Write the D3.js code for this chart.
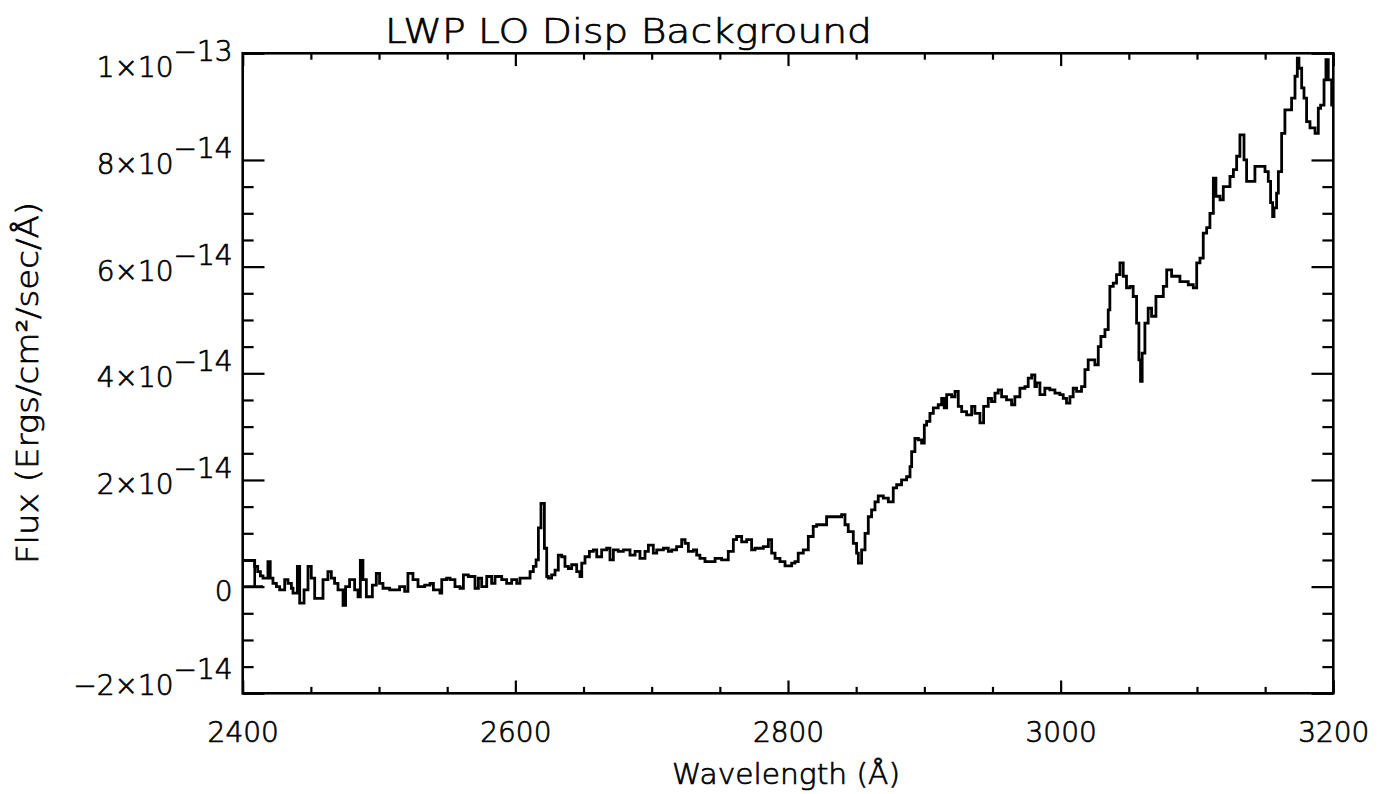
<!DOCTYPE html>
<html>
<head>
<meta charset="utf-8">
<script src="https://cdn.jsdelivr.net/npm/d3@7/dist/d3.min.js"></script>
<style>
  html, body { margin: 0; padding: 0; background: #fff; }
  svg { display: block; }
  text { font-family: "DejaVu Sans", "Liberation Sans", sans-serif; font-weight: 300; fill: #000; stroke: #000; stroke-width: 0.7px; }
</style>
</head>
<body>
<svg id="chart" width="1378" height="794"></svg>
<script>
// Background spectrum, IUE LWP low dispersion.
// Flux values are in units of 1e-14 erg/cm^2/s/Å; each value holds until the next wavelength.
const FLUX_UNIT = 1e-14;

const wavelength = [
  2400, 2408.8, 2411, 2413, 2414.9, 2418.5, 2420.2, 2422.2, 2424.7, 2427.1,
  2430.8, 2433.2, 2435.7, 2436.9, 2440.1, 2441.8, 2445, 2447.9, 2450.3, 2452.8,
  2458.9, 2462.5, 2465, 2467.4, 2469.9, 2473.6, 2475.5, 2478.4, 2482.1, 2484.6,
  2486.3, 2488.2, 2490.7, 2495.1, 2498, 2500.4, 2502.9, 2507.8, 2515.1, 2518.8,
  2521.2, 2524.9, 2528.6, 2533.5, 2537.4, 2539.9, 2544.7, 2546, 2549.6, 2552.1,
  2555.7, 2559.4, 2561.9, 2565.5, 2570.4, 2572.9, 2575.3, 2579, 2582.6, 2585.1,
  2590, 2593.6, 2597.3, 2601, 2603.4, 2610.8, 2613.2, 2615.2, 2616.9, 2618.8,
  2621.3, 2623, 2624.2, 2626.6, 2629.1, 2631.5, 2634, 2636.4, 2638.9, 2641.3,
  2645, 2647.4, 2648.7, 2651.1, 2654.3, 2657.2, 2659.7, 2663.3, 2667, 2669.4,
  2671.9, 2675.5, 2679.2, 2684.1, 2687.8, 2691.4, 2695.1, 2697.6, 2701.2, 2703.7,
  2708.6, 2712.2, 2714.7, 2718.3, 2722, 2724.5, 2726.9, 2730.6, 2733, 2735.4,
  2739.1, 2746.5, 2751.3, 2756.2, 2759.9, 2762.3, 2766, 2769.7, 2773.3, 2775.8,
  2781.9, 2785.6, 2788, 2790.5, 2794.1, 2797.8, 2802.7, 2805.1, 2807.5, 2811.2,
  2814.9, 2818.5, 2821, 2828.3, 2839.3, 2841.8, 2844.2, 2847.9, 2850.3, 2851.6,
  2854, 2856.5, 2858.9, 2861.3, 2863.8, 2866.2, 2869.9, 2873.6, 2877.2, 2879.7,
  2883.3, 2887, 2889.5, 2890.7, 2893.1, 2895.6, 2898, 2900, 2901.7, 2904.1,
  2906.6, 2910.2, 2912.7, 2914.6, 2916.4, 2920, 2922.5, 2924.9, 2927.4, 2931,
  2934.7, 2937.1, 2940.8, 2943.5, 2946.9, 2949.3, 2951.8, 2954.2, 2956.7, 2960.3,
  2964, 2966.4, 2970.1, 2973.8, 2976.2, 2978.7, 2981.1, 2982.3, 2984.8, 2988.4,
  2992.1, 2995.8, 2999.4, 3001.9, 3004.3, 3006.8, 3009.2, 3011.7, 3015.3, 3017.8,
  3020.2, 3025.1, 3027.6, 3029.5, 3032.5, 3034.9, 3036.1, 3038.6, 3041, 3043.5,
  3045.9, 3048.3, 3050.8, 3053.2, 3055.7, 3057.4, 3058.6, 3059.8, 3061.8, 3064.2,
  3066.7, 3069.9, 3075.3, 3077.8, 3081.4, 3087.5, 3093.6, 3097.3, 3099.8, 3102.2,
  3104.6, 3107.1, 3109.5, 3112, 3113.9, 3116.9, 3119.3, 3124.2, 3126.7, 3129.1,
  3131.5, 3134.5, 3136.4, 3142.5, 3149.9, 3152.3, 3154, 3155.5, 3156.5, 3158.4,
  3159.7, 3162.1, 3164.5, 3169.4, 3171.9, 3173.6, 3174.8, 3176.8, 3178.5, 3180.4,
  3182.9, 3186.6, 3189, 3190.7, 3193.2, 3194.6, 3196.3, 3198.8, 3200
];

const flux = [
  0.49, 0.38, 0.28, 0.20, 0.16, 0.47, 0.16, 0.06, 0.00, -0.06,
  0.13, 0.06, -0.03, -0.12, 0.38, -0.31, -0.06, 0.38, 0.16, -0.22,
  0.13, 0.28, 0.16, 0.06, -0.06, -0.35, 0.00, 0.13, -0.06, -0.19,
  0.49, 0.13, -0.19, 0.03, 0.25, 0.06, -0.03, -0.06, 0.00, -0.09,
  0.25, 0.13, 0.00, 0.03, 0.06, -0.06, -0.12, 0.13, 0.16, 0.13,
  0.00, -0.03, 0.22, 0.19, -0.03, 0.16, 0.00, 0.19, 0.06, 0.19,
  0.13, 0.06, 0.13, 0.06, 0.16, 0.28, 0.38, 0.50, 1.10, 1.56,
  0.72, 0.19, 0.16, 0.22, 0.31, 0.59, 0.56, 0.38, 0.34, 0.41,
  0.28, 0.19, 0.44, 0.56, 0.66, 0.69, 0.56, 0.69, 0.72, 0.50,
  0.69, 0.66, 0.69, 0.59, 0.66, 0.53, 0.66, 0.78, 0.63, 0.69,
  0.72, 0.66, 0.69, 0.75, 0.88, 0.81, 0.66, 0.69, 0.59, 0.53,
  0.47, 0.53, 0.50, 0.66, 0.88, 0.94, 0.84, 0.88, 0.69, 0.72,
  0.75, 0.88, 0.63, 0.53, 0.47, 0.39, 0.44, 0.47, 0.63, 0.69,
  0.94, 1.13, 1.16, 1.31, 1.35, 1.16, 1.03, 0.81, 0.63, 0.44,
  0.69, 1.00, 1.31, 1.44, 1.59, 1.70, 1.66, 1.59, 1.85, 1.91,
  2.00, 2.06, 2.25, 2.53, 2.78, 2.75, 2.69, 3.03, 3.10, 3.25,
  3.35, 3.41, 3.53, 3.35, 3.60, 3.56, 3.66, 3.38, 3.28, 3.22,
  3.38, 3.25, 3.07, 3.38, 3.53, 3.47, 3.63, 3.69, 3.56, 3.50,
  3.41, 3.56, 3.72, 3.75, 3.91, 3.97, 3.75, 3.82, 3.60, 3.72,
  3.69, 3.63, 3.60, 3.53, 3.44, 3.56, 3.72, 3.66, 3.75, 4.07,
  4.25, 4.16, 4.50, 4.69, 4.82, 5.19, 5.63, 5.69, 5.85, 6.07,
  5.82, 5.60, 5.63, 5.44, 4.94, 4.25, 3.85, 4.38, 4.94, 5.22,
  5.07, 5.44, 5.63, 5.94, 5.82, 5.72, 5.66, 5.60, 6.07, 6.16,
  6.63, 6.73, 7.00, 7.66, 7.32, 7.25, 7.50, 7.69, 7.82, 8.07,
  8.47, 8.00, 7.60, 7.88, 7.78, 7.60, 7.20, 6.94, 7.10, 7.38,
  7.78, 8.50, 8.94, 9.16, 9.57, 9.91, 9.72, 9.35, 9.16, 8.72,
  8.60, 8.50, 8.97, 9.03, 9.50, 9.88, 9.50, 9.03, 9.03
];

// Short zero-level stub drawn at the blue end of the record
const leadInWavelength = [2400, 2414.9, 2408.8, 2408.8];
const leadInFlux = [0, 0, 0, 0.49];

// Axis ranges and tick labels
const xDomain = [2400, 3200];
const yDomain = [-2e-14, 1e-13];
const xMajorTicks = [2400, 2600, 2800, 3000, 3200];
const xMinorStep = 50;
const yMajorTicks = [-2e-14, 0, 2e-14, 4e-14, 6e-14, 8e-14, 1e-13];
const yMinorStep = 5e-15;
const yTickMantissa = ["\u22122\u00d710", "0", "2\u00d710", "4\u00d710", "6\u00d710", "8\u00d710", "1\u00d710"];
const yTickExponent = ["\u221214", "", "\u221214", "\u221214", "\u221214", "\u221214", "\u221213"];

const titleText = "LWP LO Disp Background";
const xTitle = "Wavelength (\u00c5)";
const yTitle = "Flux (Ergs/cm\u00b2/sec/\u00c5)";

// Layout
const frame = { left: 242.7, right: 1333.3, top: 53.3, bottom: 693.3 };
const plotW = frame.right - frame.left;
const plotH = frame.bottom - frame.top;
const xTickLen = 0.02 * plotH;   // ticks along the wavelength axis
const yTickLen = 0.02 * plotW;   // ticks along the flux axis

const svg = d3.select("#chart");

const x = d3.scaleLinear().domain(xDomain).range([frame.left, frame.right]);
const y = d3.scaleLinear().domain(yDomain).range([frame.bottom, frame.top]);

const xMinorTicks = d3.range(xDomain[0], xDomain[1] + 1e-9, xMinorStep)
  .filter(v => !xMajorTicks.includes(v));
const yMinorTicks = d3.range(0, 21).map(i => yDomain[0] + i * yMinorStep)
  .filter(v => !yMajorTicks.some(t => Math.abs(t - v) < 1e-18));

function styleAxis(g) {
  g.select(".domain").remove();
  g.selectAll(".tick line").attr("stroke", "#000").attr("stroke-width", 2.2);
}

// Wavelength ticks, bottom and top, pointing into the frame
svg.append("g").attr("transform", `translate(0,${frame.bottom})`)
  .call(d3.axisBottom(x).tickValues(xMajorTicks).tickSizeInner(-xTickLen).tickSizeOuter(0).tickPadding(29)
    .tickFormat(d3.format("d")))
  .call(styleAxis)
  .call(g => g.selectAll("text")
    .attr("font-size", 28).attr("fill", "#000")
    .attr("font-family", '"DejaVu Sans", sans-serif').attr("font-weight", 300));
svg.append("g").attr("transform", `translate(0,${frame.bottom})`)
  .call(d3.axisBottom(x).tickValues(xMinorTicks).tickSizeInner(-xTickLen / 2).tickSizeOuter(0).tickFormat(""))
  .call(styleAxis);
svg.append("g").attr("transform", `translate(0,${frame.top})`)
  .call(d3.axisTop(x).tickValues(xMajorTicks).tickSizeInner(-xTickLen).tickSizeOuter(0).tickFormat(""))
  .call(styleAxis);
svg.append("g").attr("transform", `translate(0,${frame.top})`)
  .call(d3.axisTop(x).tickValues(xMinorTicks).tickSizeInner(-xTickLen / 2).tickSizeOuter(0).tickFormat(""))
  .call(styleAxis);

// Flux ticks, left and right
svg.append("g").attr("transform", `translate(${frame.left},0)`)
  .call(d3.axisLeft(y).tickValues(yMajorTicks).tickSizeInner(-yTickLen).tickSizeOuter(0).tickFormat(""))
  .call(styleAxis);
svg.append("g").attr("transform", `translate(${frame.left},0)`)
  .call(d3.axisLeft(y).tickValues(yMinorTicks).tickSizeInner(-yTickLen / 2).tickSizeOuter(0).tickFormat(""))
  .call(styleAxis);
svg.append("g").attr("transform", `translate(${frame.right},0)`)
  .call(d3.axisRight(y).tickValues(yMajorTicks).tickSizeInner(-yTickLen).tickSizeOuter(0).tickFormat(""))
  .call(styleAxis);
svg.append("g").attr("transform", `translate(${frame.right},0)`)
  .call(d3.axisRight(y).tickValues(yMinorTicks).tickSizeInner(-yTickLen / 2).tickSizeOuter(0).tickFormat(""))
  .call(styleAxis);

// Flux tick labels in m×10^e form; the two end labels are pulled inward
const yLabels = svg.append("g").attr("font-size", 28);
yMajorTicks.forEach((v, i) => {
  let nudge = 0;
  if (v === yDomain[1]) nudge = 10;
  if (v === yDomain[0]) nudge = -12;
  const t = yLabels.append("text")
    .attr("x", frame.left - 10)
    .attr("y", y(v) + 14 + nudge)
    .attr("text-anchor", "end");
  t.append("tspan").text(yTickMantissa[i]);
  if (yTickExponent[i]) {
    t.append("tspan").attr("dy", -16).text(yTickExponent[i]);
  }
});

// Plot frame
svg.append("rect")
  .attr("x", frame.left).attr("y", frame.top)
  .attr("width", plotW).attr("height", plotH)
  .attr("fill", "none").attr("stroke", "#000").attr("stroke-width", 2.6);

// Spectrum
const spectrum = wavelength.map((w, i) => ({ w, f: flux[i] * FLUX_UNIT }));
const line = d3.line().x(d => x(d.w)).y(d => y(d.f)).curve(d3.curveStepAfter);
svg.append("path")
  .datum(spectrum)
  .attr("d", line)
  .attr("fill", "none").attr("stroke", "#000")
  .attr("stroke-width", 2.8).attr("stroke-linejoin", "miter");

const leadIn = leadInWavelength.map((w, i) => ({ w, f: leadInFlux[i] * FLUX_UNIT }));
svg.append("path")
  .datum(leadIn)
  .attr("d", d3.line().x(d => x(d.w)).y(d => y(d.f)))
  .attr("fill", "none").attr("stroke", "#000").attr("stroke-width", 2.6);

// Titles
svg.append("text")
  .attr("x", 385).attr("y", 43)
  .attr("font-size", 33)
  .attr("textLength", 487).attr("lengthAdjust", "spacingAndGlyphs")
  .text(titleText);

svg.append("text")
  .attr("x", 786).attr("y", 784)
  .attr("text-anchor", "middle")
  .attr("font-size", 29)
  .attr("textLength", 228).attr("lengthAdjust", "spacingAndGlyphs")
  .text(xTitle);

svg.append("text")
  .attr("transform", `translate(38,${383}) rotate(-90)`)
  .attr("text-anchor", "middle")
  .attr("font-size", 30)
  .attr("textLength", 362).attr("lengthAdjust", "spacingAndGlyphs")
  .text(yTitle);
</script>
</body>
</html>
